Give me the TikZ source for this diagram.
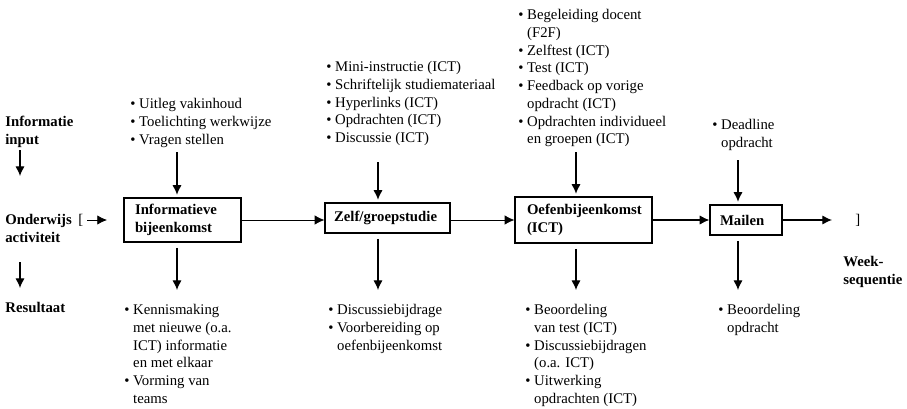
\documentclass[tikz,border=0pt]{standalone}
\usepackage{fontspec}
\setmainfont{Liberation Serif}
\usetikzlibrary{arrows.meta}

\newcommand{\bl}{\textbullet\ }
\newcommand{\hg}{\hphantom{\textbullet\ }}

\tikzset{
  txt/.style={anchor=north west, inner sep=0pt, align=left},
  lbl/.style={txt, font=\fontsize{8.4}{10.1}\selectfont\bfseries},
  box/.style={draw, line width=0.7pt, align=left, font=\fontsize{8.4}{10.1}\selectfont\bfseries},
  arr/.style={-{Latex[length=5.5pt,width=5.3pt]}, line width=0.7pt},
}

\begin{document}
\begin{tikzpicture}[x=0.02cm, y=-0.02cm, font=\fontsize{8.4}{10.1}\selectfont]
    \useasboundingbox (0,0) rectangle (907,409);

    % left column
    \node[lbl] (info) at (5,116) {Informatie\\input};
    \node[lbl] (ondw) at (5,214) {Onderwijs\\activiteit};
    \node[txt, anchor=west] (brl) at (78,220) {[};
    \node[lbl] (res) at (5,302) {Resultaat};
    \coordinate (l1) at (20,150);
    \coordinate (l2) at (20,176);
    \coordinate (l3) at (20,262);
    \coordinate (l4) at (20,288);
    \coordinate (l5) at (107,220);
    \draw[arr] (l1) -- (l2);
    \draw[arr] (l3) -- (l4);
    \draw[arr, line width=0.4pt] ([xshift=2pt]brl.east) -- (l5);

    % boxes
    \node[box, text width=1.90cm, inner xsep=0.22cm, minimum height=0.88cm] (b1) at (182.5,220) {Informatieve\\bijeenkomst};
    \node[box, text width=2.14cm, inner xsep=0.18cm, minimum height=0.60cm] (b2) at (387.5,218) {Zelf/groepstudie};
    \node[box, text width=2.26cm, inner xsep=0.24cm, minimum height=0.92cm] (b3) at (583.5,220) {Oefenbijeenkomst\\(ICT)};
    \node[box, text width=1.04cm, inner xsep=0.2cm, minimum height=0.60cm] (b4) at (746,220) {Mailen};

    \draw[arr, line width=0.4pt] (b1.east) -- (b1.east -| b2.west);
    \draw[arr, line width=0.4pt] (b2.east |- b3.west) -- (b3.west);
    \draw[arr] (b3) -- (b4);
    \coordinate (e4) at (832,220);
    \draw[arr] (b4) -- (e4);
    \node[txt, anchor=west] (brr) at (855,220) {]};
    \node[lbl] (week) at (843,256) {Week-\\sequentie};

    % input texts
    \node[txt] (in1) at (130,98) {\bl Uitleg vakinhoud\\\bl Toelichting werkwijze\\\bl Vragen stellen};
    \node[txt] (in2) at (326,61) {\bl Mini-instructie (ICT)\\\bl Schriftelijk studiemateriaal\\\bl Hyperlinks (ICT)\\\bl Opdrachten (ICT)\\\bl Discussie (ICT)};
    \node[txt] (in3) at (518,9) {\bl Begeleiding docent\\\hg(F2F)\\\bl Zelftest (ICT)\\\bl Test (ICT)\\\bl Feedback op vorige\\\hg opdracht (ICT)\\\bl Opdrachten individueel\\\hg en groepen (ICT)};
    \node[txt] (in4) at (712,119) {\bl Deadline\\\hg opdracht};

    % result texts
    \node[txt] (out1) at (124,304) {\bl Kennismaking\\\hg met nieuwe (o.a.\\\hg ICT) informatie\\\hg en met elkaar\\\bl Vorming van\\\hg teams};
    \node[txt] (out2) at (328,304) {\bl Discussiebijdrage\\\bl Voorbereiding op\\\hg oefenbijeenkomst};
    \node[txt] (out3) at (525,304) {\bl Beoordeling\\\hg van test (ICT)\\\bl Discussiebijdragen\\\hg (o.a. ICT)\\\bl Uitwerking\\\hg opdrachten (ICT)};
    \node[txt] (out4) at (718,304) {\bl Beoordeling\\\hg opdracht};

    % vertical arrows
    \foreach \n/\x/\t in {1/177/152, 2/378/162, 3/576/152, 4/738/160} {
      \coordinate (t\n) at (\x,\t);
      \coordinate (r\n) at (\x,290);
      \draw[arr, shorten >=1.5pt] (t\n) -- (t\n |- b\n.north);
      \draw[arr, shorten <=3pt] (r\n |- b\n.south) -- (r\n);
    }
\end{tikzpicture}
\end{document}
